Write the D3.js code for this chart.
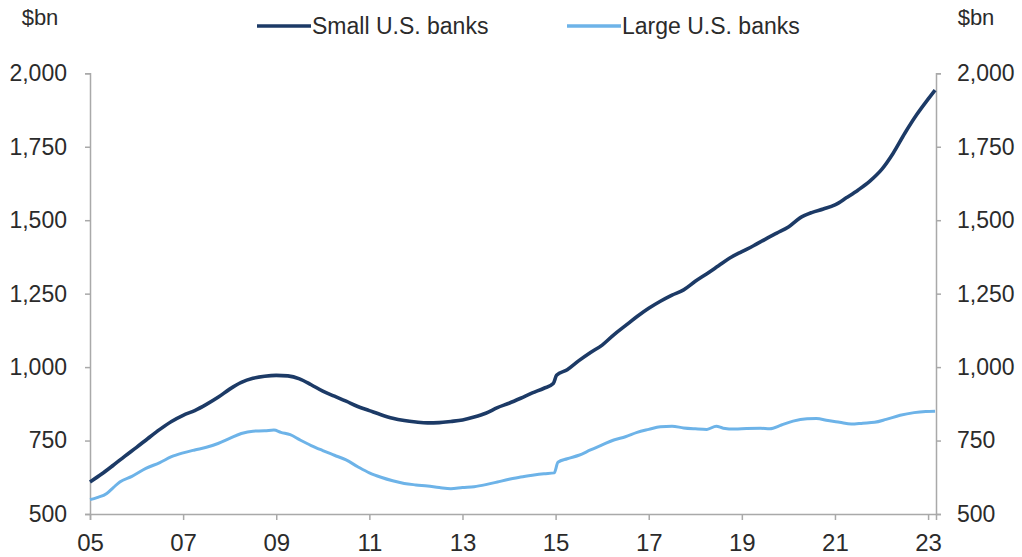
<!DOCTYPE html>
<html>
<head>
<meta charset="utf-8">
<script src="https://cdn.jsdelivr.net/npm/d3@7"></script>
<style>
  html, body { margin: 0; padding: 0; background: #fff; }
  svg { display: block; }
  text { font-family: "Liberation Sans", Arial, sans-serif; fill: #2b2b2b; }
</style>
</head>
<body>
<svg id="chart" width="1022" height="557"></svg>
<script>
// Loans outstanding, $bn (decimal year, value)
const smallDates = [2005.0,2005.25,2005.5,2005.75,2006.0,2006.25,2006.5,2006.75,2007.0,2007.25,2007.5,2007.75,2008.0,2008.25,2008.5,2008.75,2009.0,2009.25,2009.5,2009.75,2010.0,2010.25,2010.5,2010.75,2011.0,2011.25,2011.5,2011.75,2012.0,2012.25,2012.5,2012.75,2013.0,2013.25,2013.5,2013.75,2014.0,2014.25,2014.5,2014.75,2014.95,2015.02,2015.25,2015.5,2015.75,2016.0,2016.25,2016.5,2016.75,2017.0,2017.25,2017.5,2017.75,2018.0,2018.25,2018.5,2018.75,2019.0,2019.25,2019.5,2019.75,2020.0,2020.25,2020.5,2020.75,2021.0,2021.25,2021.5,2021.75,2022.0,2022.25,2022.5,2022.75,2023.0,2023.15];
const smallValues = [609,636,666,697,727,758,788,815,836,852,873,897,925,948,962,969,972,970,960,940,918,901,884,866,852,838,826,818,813,810,811,815,820,830,843,862,877,894,912,928,944,972,991,1022,1050,1075,1110,1141,1172,1200,1224,1245,1263,1292,1318,1345,1372,1393,1413,1435,1456,1477,1508,1526,1538,1552,1577,1603,1633,1672,1728,1796,1858,1912,1943];

const largeDates = [2005.0,2005.15,2005.36,2005.5,2005.64,2005.9,2006.2,2006.5,2006.75,2007.0,2007.25,2007.5,2007.75,2008.0,2008.25,2008.5,2008.75,2008.95,2009.1,2009.3,2009.5,2009.75,2010.0,2010.25,2010.5,2010.75,2011.0,2011.25,2011.5,2011.75,2012.0,2012.25,2012.5,2012.75,2013.0,2013.25,2013.5,2013.75,2014.0,2014.25,2014.5,2014.75,2014.97,2015.05,2015.25,2015.5,2015.75,2016.0,2016.25,2016.5,2016.75,2017.0,2017.25,2017.5,2017.75,2018.0,2018.25,2018.45,2018.6,2018.85,2019.1,2019.4,2019.6,2019.85,2020.1,2020.4,2020.6,2020.85,2021.1,2021.35,2021.6,2021.85,2022.1,2022.4,2022.7,2022.95,2023.15];
const largeValues = [549,556,570,590,609,628,655,675,695,708,718,727,740,757,774,782,783,786,778,770,753,733,716,700,684,661,640,625,613,604,599,595,590,586,590,593,600,609,618,626,632,637,640,676,688,700,718,735,752,763,778,788,797,799,793,790,788,799,792,789,791,792,790,803,816,824,825,818,812,806,809,812,822,836,845,849,850];

const yearTicks = [2005,2007,2009,2011,2013,2015,2017,2019,2021,2023];
const valueTicks = [500,750,1000,1250,1500,1750,2000];
const seriesNames = ["Small U.S. banks", "Large U.S. banks"];
const seriesColors = ["#1c3a66", "#6db3e8"];

const svg = d3.select("#chart");

const x = d3.scaleLinear().domain([2005, 2023.17]).range([90, 936]);
const y = d3.scaleLinear().domain([500, 2000]).range([514, 73.3]);

const axisColor = "#a9a9a9";
const fmtVal = d3.format(",");
const fmtYear = d => String(d % 100).padStart(2, "0");

// Bottom axis
const gx = svg.append("g").attr("transform", `translate(0,${y(500)})`)
  .call(d3.axisBottom(x).tickValues(yearTicks).tickFormat(fmtYear).tickSize(6).tickPadding(14));
// Left axis
const gl = svg.append("g").attr("transform", `translate(${x(2005)},0)`)
  .call(d3.axisLeft(y).tickValues(valueTicks).tickFormat(fmtVal).tickSize(5).tickPadding(18));
// Right axis
const gr = svg.append("g").attr("transform", `translate(${x(2023.17)},0)`)
  .call(d3.axisRight(y).tickValues(valueTicks).tickFormat(fmtVal).tickSize(5).tickPadding(16));

[gx, gl, gr].forEach(g => {
  g.select(".domain").attr("stroke", axisColor).attr("stroke-width", 1.5);
  g.selectAll(".tick line").attr("stroke", axisColor).attr("stroke-width", 1.5);
  g.selectAll(".tick text").attr("font-size", 23).attr("fill", "#262626")
    .attr("font-family", "'Liberation Sans', Arial, sans-serif");
});
gx.selectAll(".tick text").attr("font-size", 24).attr("dy", "0.7em");

// Unit labels
svg.append("text").attr("x", 40).attr("y", 25).attr("text-anchor", "middle")
  .attr("font-size", 22).attr("fill", "#262626").text("$bn");
svg.append("text").attr("x", 976).attr("y", 25).attr("text-anchor", "middle")
  .attr("font-size", 22).attr("fill", "#262626").text("$bn");

// Lines
const line = d3.line().x(d => x(d[0])).y(d => y(d[1])).curve(d3.curveMonotoneX);
const largeData = largeDates.map((d, i) => [d, largeValues[i]]);
const smallData = smallDates.map((d, i) => [d, smallValues[i]]);

svg.append("path").datum(largeData).attr("d", line)
  .attr("fill", "none").attr("stroke", seriesColors[1]).attr("stroke-width", 3)
  .attr("stroke-linejoin", "round");
svg.append("path").datum(smallData).attr("d", line)
  .attr("fill", "none").attr("stroke", seriesColors[0]).attr("stroke-width", 3.6)
  .attr("stroke-linejoin", "round");

// Legend
const legendX = [257, 567];
seriesNames.forEach((name, i) => {
  const g = svg.append("g").attr("transform", `translate(${legendX[i]},26)`);
  g.append("line").attr("x1", 0).attr("x2", 54).attr("y1", 0).attr("y2", 0)
    .attr("stroke", seriesColors[i]).attr("stroke-width", 3.4);
  g.append("text").attr("x", 55).attr("y", 8).attr("font-size", 23).attr("fill", "#262626").text(name);
});
</script>
</body>
</html>
